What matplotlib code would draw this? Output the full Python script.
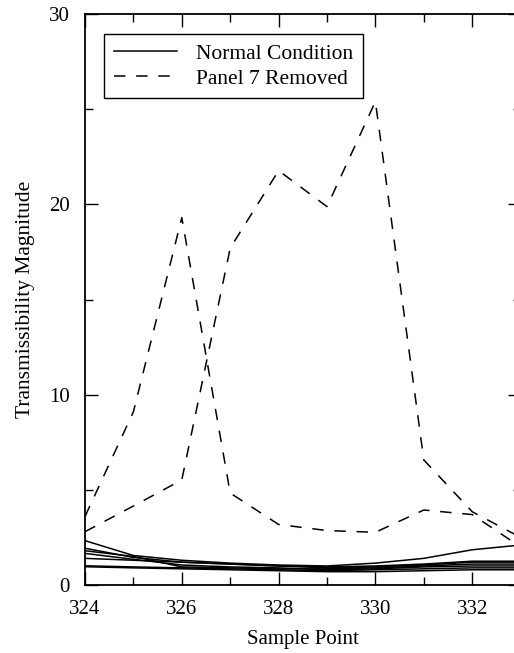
import matplotlib
matplotlib.use("Agg")
import matplotlib.pyplot as plt
from matplotlib.ticker import MultipleLocator

plt.rcParams['font.family'] = ['Liberation Serif', 'DejaVu Serif']

sample_points = [324, 325, 326, 327, 328, 329, 330, 331, 332, 333]

# Normal condition (solid)
normal_1 = [2.33, 1.55, 1.30, 1.15, 1.05, 1.00, 1.15, 1.40, 1.85, 2.10]
normal_2 = [1.93, 1.45, 1.20, 1.10, 1.00, 0.95, 1.00, 1.10, 1.25, 1.25]
normal_3 = [1.80, 1.50, 0.95, 0.90, 0.85, 0.85, 0.90, 1.00, 1.10, 1.10]
normal_4 = [1.66, 1.35, 1.05, 0.95, 0.90, 0.80, 0.85, 0.95, 1.00, 1.00]
normal_5 = [1.40, 1.30, 1.20, 1.10, 1.00, 0.90, 0.95, 1.05, 1.20, 1.20]
normal_6 = [1.01, 0.95, 0.90, 0.85, 0.80, 0.75, 0.80, 0.85, 0.90, 0.90]
normal_7 = [0.96, 0.90, 0.85, 0.80, 0.75, 0.70, 0.70, 0.75, 0.80, 0.80]

# Panel 7 removed (dashed)
removed_1 = [3.60, 9.10, 19.30, 4.83, 3.18, 2.86, 2.77, 3.94, 3.70, 2.00]
removed_2 = [2.80, 4.15, 5.52, 17.70, 21.77, 19.88, 25.40, 6.57, 3.85, 2.50]

normal_series = [normal_1, normal_2, normal_3, normal_4, normal_5, normal_6, normal_7]
removed_series = [removed_1, removed_2]

fig = plt.figure(figsize=(5.14, 6.53), dpi=100)
ax = fig.add_axes([85/514, 1 - 585/653, (520.6 - 85)/514, (585 - 14)/653])

for i, s in enumerate(normal_series):
    ax.plot(sample_points, s, color='black', lw=1.1,
            label='Normal Condition' if i == 0 else None)
for i, s in enumerate(removed_series):
    ax.plot(sample_points, s, color='black', lw=1.1, linestyle=(0, (7.5, 7)),
            label='Panel 7 Removed' if i == 0 else None)

ax.set_xlim(324, 333)
ax.set_ylim(0, 30)
ax.xaxis.set_major_locator(MultipleLocator(2))
ax.xaxis.set_minor_locator(MultipleLocator(1))
ax.yaxis.set_major_locator(MultipleLocator(10))
ax.yaxis.set_minor_locator(MultipleLocator(5))
ax.tick_params(which='both', direction='in', top=True, right=True,
               labelsize=15, width=1.0, pad=11)
ax.tick_params(which='major', length=9.5)
ax.tick_params(which='minor', length=5.5)
for sp in ax.spines.values():
    sp.set_linewidth(1.3)

ax.set_xlabel('Sample Point', fontsize=15, labelpad=8)
ax.set_ylabel('Transmissibility Magnitude', fontsize=15.5, labelpad=10)

leg = ax.legend(loc='upper left', bbox_to_anchor=(0.0436, 0.965), fontsize=15.5,
                frameon=True, fancybox=False, edgecolor='black',
                handlelength=2.93, handletextpad=0.9, borderpad=0.45,
                labelspacing=0.22, borderaxespad=0)
leg.get_frame().set_linewidth(1.0)
leg.get_frame().set_alpha(1)

fig.savefig('out.png', dpi=100)
